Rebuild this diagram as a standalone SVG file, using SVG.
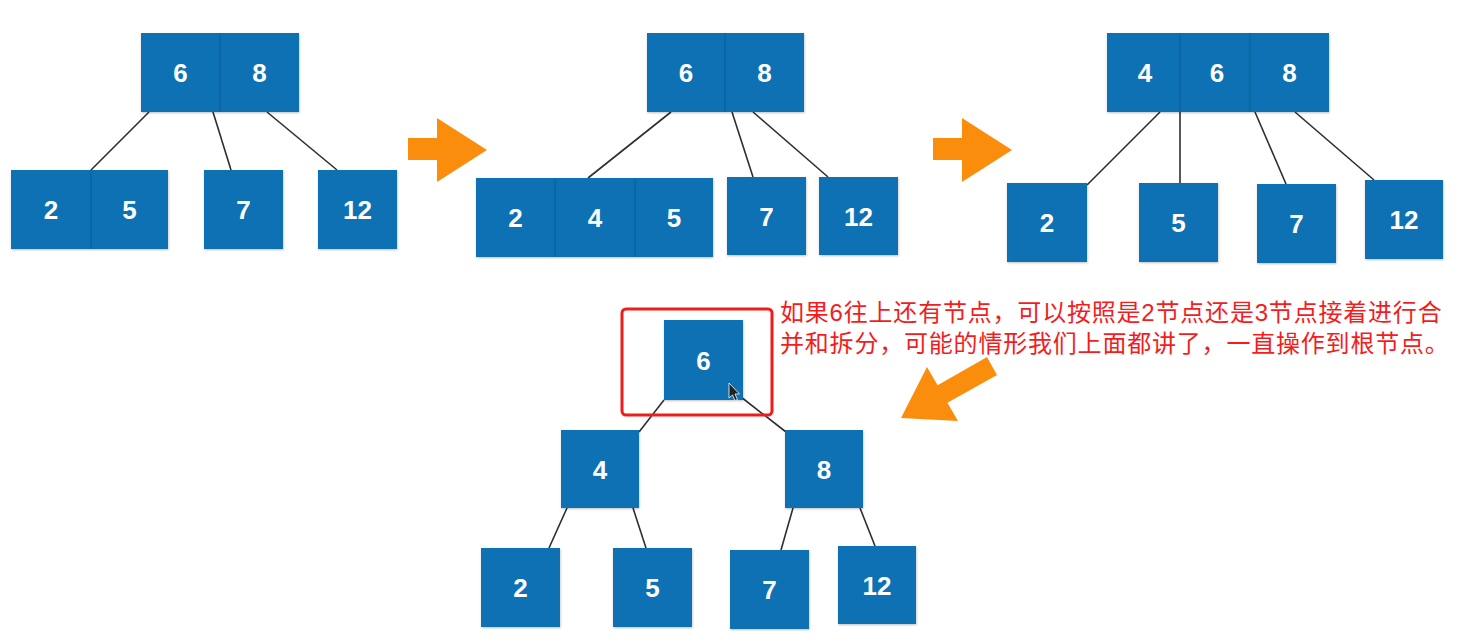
<svg xmlns="http://www.w3.org/2000/svg" width="1463" height="643" viewBox="0 0 1463 643">
<defs>
<filter id="sh" x="-10%" y="-10%" width="120%" height="120%"><feDropShadow dx="0.5" dy="1" stdDeviation="0.8" flood-color="#000" flood-opacity="0.25"/></filter>
</defs>
<style>
.box{fill:#0b71b4;filter:url(#sh)}
.div{stroke:#09609a;stroke-width:1}
.lbl{fill:#fff;font-family:"Liberation Sans",Arial,sans-serif;font-weight:bold;font-size:26px;text-anchor:middle}
.edge{stroke:#2e2e2e;stroke-width:1.6;fill:none}
.arr{fill:#fa8e0c}
.note{fill:#f41c1c;font-family:"Liberation Sans","Noto Sans CJK SC",sans-serif;font-size:24px;letter-spacing:0.8px}
</style>
<rect width="1463" height="643" fill="#fff"/>

<g id="connectors">
<line class="edge" x1="149" y1="112" x2="91" y2="170"/>
<line class="edge" x1="213" y1="112" x2="231" y2="170"/>
<line class="edge" x1="267" y1="112" x2="337" y2="170"/>
<line class="edge" x1="671" y1="112" x2="588" y2="178"/>
<line class="edge" x1="732" y1="112" x2="753" y2="177"/>
<line class="edge" x1="753" y1="112" x2="828" y2="177"/>
<line class="edge" x1="1160" y1="112" x2="1087" y2="185"/>
<line class="edge" x1="1180" y1="112" x2="1180" y2="183"/>
<line class="edge" x1="1255" y1="112" x2="1286" y2="184"/>
<line class="edge" x1="1295" y1="112" x2="1374" y2="180"/>
<line class="edge" x1="664" y1="400" x2="639" y2="432"/>
<line class="edge" x1="741" y1="397" x2="786" y2="432"/>
<line class="edge" x1="567" y1="508" x2="549" y2="548"/>
<line class="edge" x1="633" y1="508" x2="646" y2="548"/>
<line class="edge" x1="793" y1="508" x2="781" y2="550"/>
<line class="edge" x1="860" y1="508" x2="875" y2="546"/>
</g>

<g id="arrows">
<polygon class="arr" points="408,138 437,138 437,118 487,150 437,182 437,160 408,160"/>
<polygon class="arr" points="933,138 962,138 962,118 1012,150 962,182 962,160 933,160"/>
<polygon class="arr" points="901,418 927,367 937.6,385.3 987,357 997,375 947.4,402.7 958,421"/>
</g>

<!-- Diagram 1 -->
<g id="d1-root">
<rect class="box" x="141" y="33" width="158" height="79"/>
<line class="div" x1="220" y1="33" x2="220" y2="112"/>
<text class="lbl" x="180.5" y="82">6</text>
<text class="lbl" x="259.5" y="82">8</text>
</g>
<g id="d1-25">
<rect class="box" x="11" y="170" width="157" height="79"/>
<line class="div" x1="91" y1="170" x2="91" y2="249"/>
<text class="lbl" x="51" y="219">2</text>
<text class="lbl" x="129.5" y="219">5</text>
</g>
<g id="d1-7">
<rect class="box" x="204" y="170" width="79" height="79"/>
<text class="lbl" x="243.5" y="219">7</text>
</g>
<g id="d1-12">
<rect class="box" x="318" y="170" width="79" height="79"/>
<text class="lbl" x="357.5" y="219">12</text>
</g>

<!-- Diagram 2 -->
<g id="d2-root">
<rect class="box" x="647" y="33" width="157" height="79"/>
<line class="div" x1="725" y1="33" x2="725" y2="112"/>
<text class="lbl" x="686" y="82">6</text>
<text class="lbl" x="764.5" y="82">8</text>
</g>
<g id="d2-245">
<rect class="box" x="476" y="178" width="237" height="79"/>
<line class="div" x1="555" y1="178" x2="555" y2="257"/>
<line class="div" x1="635" y1="178" x2="635" y2="257"/>
<text class="lbl" x="515.5" y="227">2</text>
<text class="lbl" x="595" y="227">4</text>
<text class="lbl" x="674" y="227">5</text>
</g>
<g id="d2-7">
<rect class="box" x="727" y="177" width="79" height="78"/>
<text class="lbl" x="766.5" y="225.5">7</text>
</g>
<g id="d2-12">
<rect class="box" x="819" y="177" width="79" height="78"/>
<text class="lbl" x="858.5" y="225.5">12</text>
</g>

<!-- Diagram 3 -->
<g id="d3-root">
<rect class="box" x="1107" y="33" width="222" height="79"/>
<line class="div" x1="1180" y1="33" x2="1180" y2="112"/>
<line class="div" x1="1250" y1="33" x2="1250" y2="112"/>
<text class="lbl" x="1145" y="82">4</text>
<text class="lbl" x="1217" y="82">6</text>
<text class="lbl" x="1289.5" y="82">8</text>
</g>
<g id="d3-2">
<rect class="box" x="1007" y="183" width="80" height="79"/>
<text class="lbl" x="1047" y="232">2</text>
</g>
<g id="d3-5">
<rect class="box" x="1139" y="183" width="79" height="79"/>
<text class="lbl" x="1178.5" y="232">5</text>
</g>
<g id="d3-7">
<rect class="box" x="1257" y="184" width="79" height="79"/>
<text class="lbl" x="1296.5" y="233">7</text>
</g>
<g id="d3-12">
<rect class="box" x="1365" y="180" width="78" height="79"/>
<text class="lbl" x="1404" y="229">12</text>
</g>

<!-- Diagram 4 -->
<g id="d4-6">
<rect class="box" x="664" y="320" width="79" height="80"/>
<text class="lbl" x="703.5" y="369.5">6</text>
</g>
<g id="d4-4">
<rect class="box" x="561" y="430" width="78" height="78"/>
<text class="lbl" x="600" y="478.5">4</text>
</g>
<g id="d4-8">
<rect class="box" x="785" y="430" width="78" height="78"/>
<text class="lbl" x="824" y="478.5">8</text>
</g>
<g id="d4-2">
<rect class="box" x="481" y="548" width="79" height="79"/>
<text class="lbl" x="520.5" y="597">2</text>
</g>
<g id="d4-5">
<rect class="box" x="613" y="548" width="79" height="79"/>
<text class="lbl" x="652.5" y="597">5</text>
</g>
<g id="d4-7">
<rect class="box" x="730" y="550" width="79" height="79"/>
<text class="lbl" x="769.5" y="599">7</text>
</g>
<g id="d4-12">
<rect class="box" x="838" y="546" width="78" height="78"/>
<text class="lbl" x="877" y="594.5">12</text>
</g>

<g id="cursor">
<polygon points="729,383 729,398 732.5,395 735,400.5 737.5,399.5 735,394 739.5,394" fill="#222" stroke="#fff" stroke-width="0.8"/>
</g>

<g id="highlight">
<rect x="622" y="309" width="150" height="106" rx="4" fill="none" stroke="#f01c1c" stroke-width="3"/>
</g>

<g id="note">
<text class="note"><tspan x="780" y="321">如果6往上还有节点，可以按照是2节点还是3节点接着进行合</tspan><tspan x="780" y="352">并和拆分，可能的情形我们上面都讲了，一直操作到根节点。</tspan></text>
</g>
</svg>
